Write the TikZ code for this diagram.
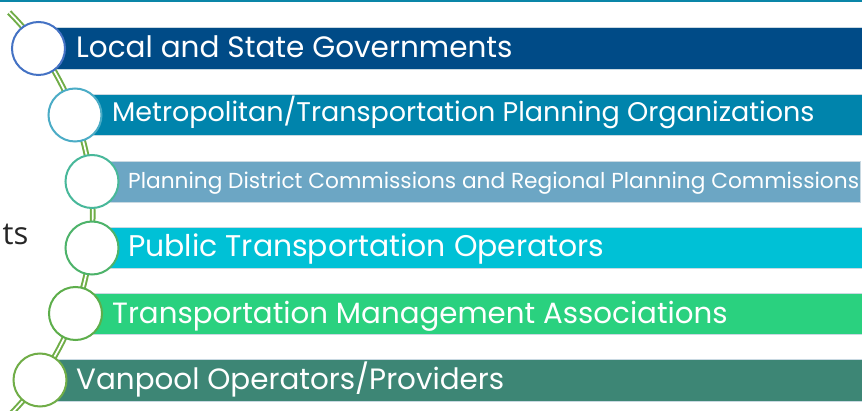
\documentclass[tikz,border=0pt]{standalone}
\usepackage{fontspec}
\setmainfont{Poppins}
\newfontfamily\tsfont{Open Sans}
\definecolor{topline}{HTML}{0A86A8}
\definecolor{spine}{HTML}{70AD47}
\definecolor{edge}{HTML}{C9D9E2}
\definecolor{bA}{HTML}{004B87}
\definecolor{bB}{HTML}{0084AC}
\definecolor{bC}{HTML}{6CA6C4}
\definecolor{bD}{HTML}{00C1D6}
\definecolor{bE}{HTML}{2AD17F}
\definecolor{bF}{HTML}{3D8675}
\definecolor{cA}{HTML}{4472C4}
\definecolor{cB}{HTML}{4BACC6}
\definecolor{cC}{HTML}{48B89A}
\definecolor{cD}{HTML}{4DB36A}
\definecolor{cE}{HTML}{5DAE4B}
\definecolor{cF}{HTML}{70AD47}
\tikzset{
  barbox/.style={draw=edge, line width=0.7pt, fill=#1},
  ring/.style={circle, draw=#1, line width=2pt, fill=white, minimum size=53pt, inner sep=0pt},
  label/.style={anchor=base west, text=white, inner sep=0pt},
  spineline/.style={draw=spine, double=white, double distance=1.7pt, line width=2pt}
}
\begin{document}
\begin{tikzpicture}[x=1pt, y=-1pt]
\useasboundingbox (0,0) rectangle (862,411);
\clip (0,0) rectangle (862,411);
\fill[white] (0,0) rectangle (862,411);
\fill[topline] (0,0) rectangle (862,2);
% bars
\path[barbox=bA] (38,27) rectangle (863,69);
\path[barbox=bB] (75,94) rectangle (863,135);
\path[barbox=bC] (92,161) rectangle (860,202);
\path[barbox=bD] (92,227) rectangle (863,268);
\path[barbox=bE] (75,293) rectangle (863,334);
\path[barbox=bF] (40,359) rectangle (863,401);
% spine
\draw[spineline] plot[domain=45:-48, samples=80, smooth] ({-192.3+285*cos(\x)},{214-285*sin(\x)});
% circles
\node[ring=cA] (c1) at (38.5,48.5) {};
\node[ring=cB] (c2) at (75,115) {};
\node[ring=cC] (c3) at (92,181.5) {};
\node[ring=cD] (c4) at (92,248) {};
\node[ring=cE] (c5) at (75.5,313.5) {};
\node[ring=cF] (c6) at (40,380) {};
% labels
\node[label, font=\fontsize{29.5}{34}\selectfont] (t1) at (76,58) {Local and State Governments};
\node[label, font=\fontsize{27}{31}\selectfont] (t2) at (112,122) {Metropolitan/Transportation Planning Organizations};
\node[label, font=\fontsize{21.7}{25}\selectfont] (t3) at (128,188.3) {Planning District Commissions and Regional Planning Commissions};
\node[label, font=\fontsize{29.9}{34}\selectfont] (t4) at (128,256.7) {Public Transportation Operators};
\node[label, font=\fontsize{29.3}{34}\selectfont] (t5) at (112,323.3) {Transportation Management Associations};
\node[label, font=\fontsize{29.4}{34}\selectfont] (t6) at (76,389.3) {Vanpool Operators/Providers};
\node[anchor=base east, inner sep=0pt, text=black!85, font=\tsfont\fontsize{31}{36}\selectfont] (ts) at (28.5,245) {ts};
\end{tikzpicture}
\end{document}
